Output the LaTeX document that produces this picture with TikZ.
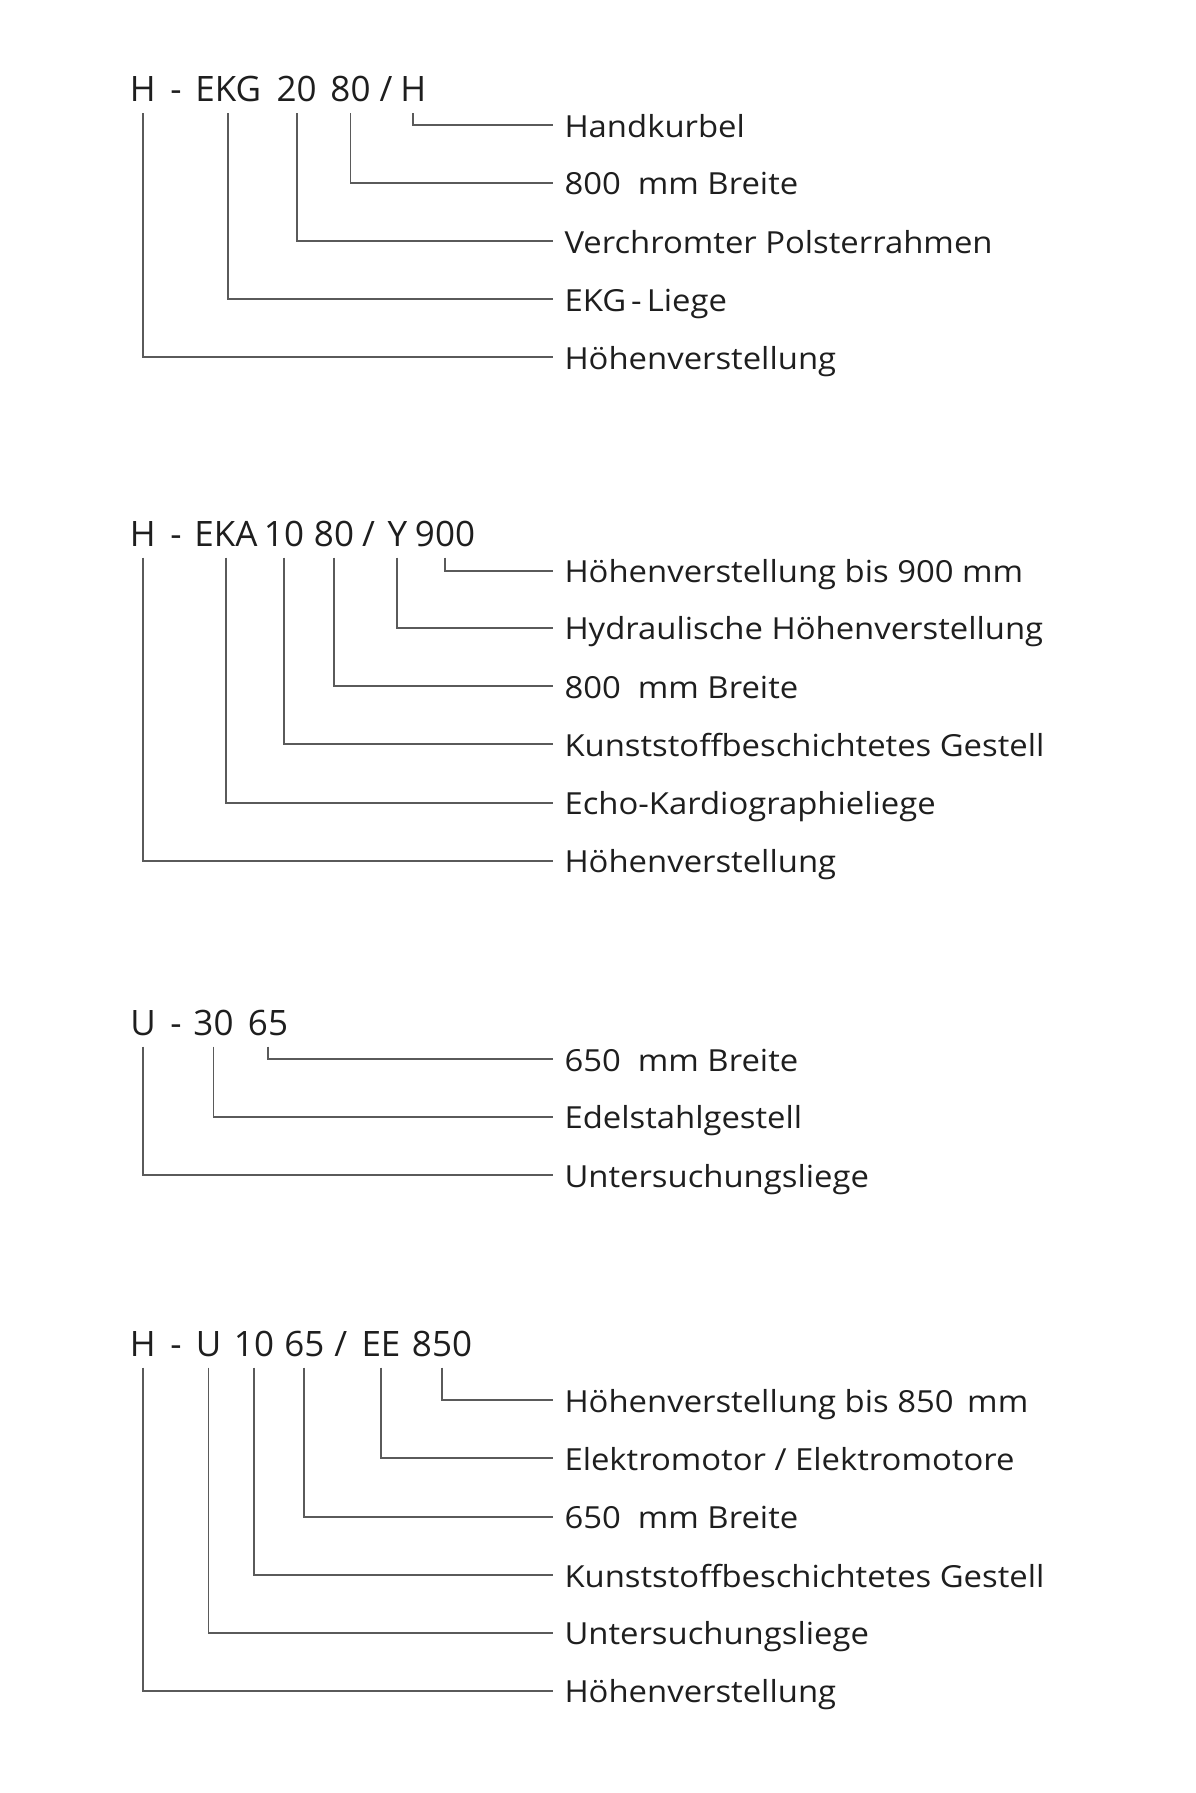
\documentclass[tikz,border=0pt]{standalone}
\usepackage{fontspec}
\setmainfont{Open Sans}
\newfontfamily\descfont[FakeStretch=1.08]{Open Sans}
\definecolor{ink}{HTML}{1E1E1E}
\definecolor{wire}{HTML}{5A5A5A}
\begin{document}
\begin{tikzpicture}
[x=1pt,y=-1pt,
code/.style={anchor=base,inner sep=0pt,text depth=11.5pt,text=ink,font=\fontsize{35}{40}\selectfont},
desc/.style={anchor=west,inner xsep=11pt,inner ysep=0pt,text height=24pt,text depth=0pt,text=ink,font=\descfont\fontsize{30.4}{36}\selectfont},
link/.style={draw=wire,line width=1.7pt}]
\useasboundingbox (0,0) rectangle (1195,1793);
%H-EKG
	\node[code] (h1) at (142.7,101.7) {H};
	\node[code] (s1) at (176,101.7) {-};
	\node[code] (e1) at (228.3,101.7) {EKG};
	\node[code] (r1) at (296.7,101.7) {20};
	\node[code] (b1) at (350.5,101.7) {80};
	\node[code] (t1) at (386,101.7) {/};
	\node[code] (k1) at (413.3,101.7) {H};
\foreach \i / \y / \t in {1/125/Handkurbel,2/182.7/{800~ mm Breite},3/241/Verchromter Polsterrahmen,4/299/{EKG\,-\,Liege},5/357.3/Höhenverstellung}
{
	\node[desc] (d1\i) at (553.3,\y) {\t};
}
	\draw[link] (k1.south) |- (d11.west);
	\draw[link] (b1.south) |- (d12.west);
	\draw[link] (r1.south) |- (d13.west);
	\draw[link] (e1.south) |- (d14.west);
	\draw[link] (h1.south) |- (d15.west);
%H-EKA
	\node[code] (h2) at (142.7,546) {H};
	\node[code] (s2) at (176,546) {-};
	\node[code] (e2) at (226,546) {EKA};
	\node[code] (r2) at (284,546) {10};
	\node[code] (b2) at (334,546) {80};
	\node[code] (t2) at (368.5,546) {/};
	\node[code] (y2) at (397.3,546) {Y};
	\node[code] (m2) at (445,546) {900};
\foreach \i / \y / \t in {1/570.7/Höhenverstellung bis 900 mm,2/627.7/Hydraulische Höhenverstellung,3/686/{800~ mm Breite},4/744.3/Kunststoffbeschichtetes Gestell,5/802.7/Echo-Kardiographieliege,6/860.7/Höhenverstellung}
{
	\node[desc] (d2\i) at (553.3,\y) {\t};
}
	\draw[link] (m2.south) |- (d21.west);
	\draw[link] (y2.south) |- (d22.west);
	\draw[link] (b2.south) |- (d23.west);
	\draw[link] (r2.south) |- (d24.west);
	\draw[link] (e2.south) |- (d25.west);
	\draw[link] (h2.south) |- (d26.west);
%U
	\node[code] (u3) at (143,1035) {U};
	\node[code] (s3) at (176,1035) {-};
	\node[code] (r3) at (213.5,1035) {30};
	\node[code] (b3) at (268,1035) {65};
\foreach \i / \y / \t in {1/1059/{650~ mm Breite},2/1116.7/Edelstahlgestell,3/1175/Untersuchungsliege}
{
	\node[desc] (d3\i) at (553.3,\y) {\t};
}
	\draw[link] (b3.south) |- (d31.west);
	\draw[link] (r3.south) |- (d32.west);
	\draw[link] (u3.south) |- (d33.west);
%H-U
	\node[code] (h4) at (142.7,1356) {H};
	\node[code] (s4) at (176,1356) {-};
	\node[code] (u4) at (208.5,1356) {U};
	\node[code] (r4) at (254,1356) {10};
	\node[code] (b4) at (304.3,1356) {65};
	\node[code] (t4) at (340.7,1356) {/};
	\node[code] (e4) at (381,1356) {EE};
	\node[code] (m4) at (442,1356) {850};
\foreach \i / \y / \t in {1/1400/{Höhenverstellung bis 850\, mm},2/1458.3/{Elektromotor / Elektromotore},3/1516.7/{650~ mm Breite},4/1575/Kunststoffbeschichtetes Gestell,5/1632.7/Untersuchungsliege,6/1690.7/Höhenverstellung}
{
	\node[desc] (d4\i) at (553.3,\y) {\t};
}
	\draw[link] (m4.south) |- (d41.west);
	\draw[link] (e4.south) |- (d42.west);
	\draw[link] (b4.south) |- (d43.west);
	\draw[link] (r4.south) |- (d44.west);
	\draw[link] (u4.south) |- (d45.west);
	\draw[link] (h4.south) |- (d46.west);
\end{tikzpicture}
\end{document}
